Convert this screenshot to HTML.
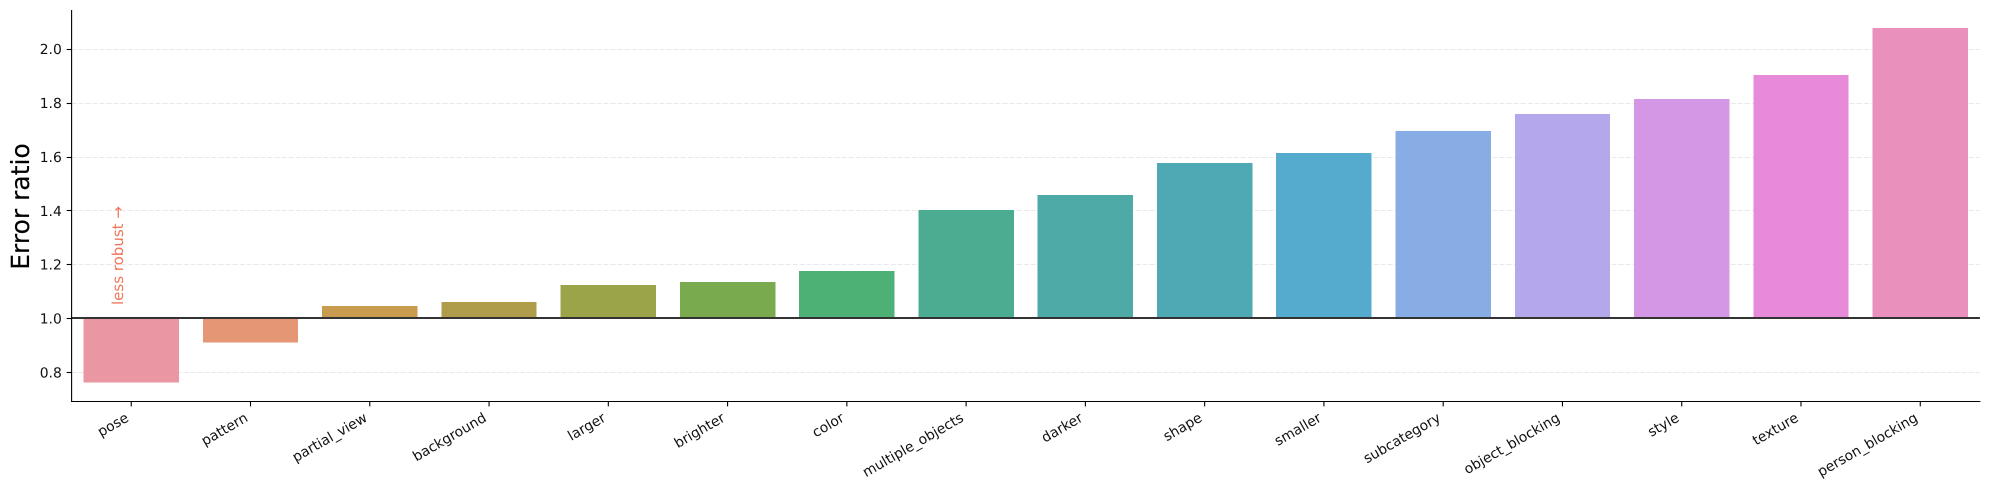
<!DOCTYPE html>
<html lang="en">
<head>
<meta charset="utf-8">
<title>Error ratio by factor</title>
<style>
html,body{margin:0;padding:0;background:#fff;width:1990px;height:490px;overflow:hidden}
svg{display:block}
text{font-family:"DejaVu Sans","Liberation Sans",sans-serif;fill:#111;text-rendering:geometricPrecision}
</style>
</head>
<body>
<svg id="chart" xmlns="http://www.w3.org/2000/svg" width="1990" height="490" viewBox="0 0 1990 490">
  <rect x="0" y="0" width="1990" height="490" fill="#ffffff"/>
  <g id="grid"></g>
  <g id="bars"></g>
  <g id="yticks"></g>
  <g id="xticks"></g>
  <g id="baseline"></g>
  <g id="spines"></g>
  <text transform="translate(29,206.5) rotate(-90)" text-anchor="middle" font-size="25" style="fill:#000;stroke:#000;stroke-width:0.15">Error ratio</text>
  <text transform="translate(123,305) rotate(-90)" font-size="15" style="fill:#f0775a">less robust →</text>
</svg>
<script>
const categories = ["pose","pattern","partial_view","background","larger","brighter","color","multiple_objects","darker","shape","smaller","subcategory","object_blocking","style","texture","person_blocking"];
const errorRatios = [0.7605,0.909,1.045,1.060,1.123,1.135,1.175,1.402,1.4575,1.576,1.613,1.695,1.758,1.814,1.903,2.078];
const yTickValues = [0.8,1.0,1.2,1.4,1.6,1.8,2.0];
const yTickLabels = ["0.8","1.0","1.2","1.4","1.6","1.8","2.0"];
const baselineValue = 1.0;
const barPalette = ["#ea96a3","#e49675","#c89b4e","#b09d4b","#9ba449","#79ab4e","#4db074","#4bac91","#4daaa6","#4fa9b5","#54abce","#88ade4","#b5a8ea","#d497e6","#e68ad9","#ea90bc"];

const NS = "http://www.w3.org/2000/svg";
const plot = {left:71.6, right:1979.9, top:10, bottom:401.5};
const yDomain = [0.6907, 2.1444];
const barFraction = 0.8;

function xScale(i){
  const step = (plot.right - plot.left) / categories.length;
  return plot.left + step * (i + 0.5);
}
function bandWidth(){
  return (plot.right - plot.left) / categories.length * barFraction;
}
function yScale(v){
  return plot.bottom - (v - yDomain[0]) / (yDomain[1] - yDomain[0]) * (plot.bottom - plot.top);
}
function make(tag, attrs, parent){
  const el = document.createElementNS(NS, tag);
  for (const k in attrs) el.setAttribute(k, attrs[k]);
  parent.appendChild(el);
  return el;
}

const gridG = document.getElementById("grid");
const barsG = document.getElementById("bars");
const yG = document.getElementById("yticks");
const xG = document.getElementById("xticks");
const baseG = document.getElementById("baseline");
const spineG = document.getElementById("spines");

yTickValues.forEach(function(v, i){
  const y = Math.round(yScale(v)) + 0.5;
  const g = make("line", {x1:plot.left, x2:plot.right, y1:y, y2:y, stroke:"#e9e9e9", "stroke-width":1.1, "stroke-dasharray":"5 2"}, gridG);
  
  
  const t = make("line", {x1:plot.left - 4.9, x2:plot.left, y1:y, y2:y, stroke:"#000", "stroke-width":1.1}, yG);
  
  
  const l = make("text", {x:plot.left - 9.8, y:yScale(v) + 5.3, "text-anchor":"end", "font-size":13.9}, yG);
  
  
  l.textContent = yTickLabels[i];
});

categories.forEach(function(name, i){
  const cx = xScale(i);
  const w = bandWidth();
  const y0 = yScale(baselineValue);
  const y1 = yScale(errorRatios[i]);
  const r = make("rect", {x:cx - w / 2, width:w, y:Math.min(y0, y1), height:Math.abs(y0 - y1), fill:barPalette[i], "shape-rendering":"crispEdges"}, barsG);
  
  
  const t = make("line", {x1:cx, x2:cx, y1:plot.bottom, y2:plot.bottom + 4.9, stroke:"#000", "stroke-width":1.1}, xG);
  
  
  const l = make("text", {transform:"translate(" + (cx - 1.6) + ",420.5) rotate(-30)", "text-anchor":"end", "font-size":13.9}, xG);
  
  
  l.textContent = name;
});

const bl = make("line", {x1:plot.left, x2:plot.right, y1:yScale(baselineValue) - 0.2, y2:yScale(baselineValue) - 0.2, stroke:"#333333", "stroke-width":2}, baseG);



const sl = make("line", {x1:plot.left, x2:plot.left, y1:plot.top, y2:plot.bottom + 0.5, stroke:"#000", "stroke-width":1.1}, spineG);


const sb = make("line", {x1:plot.left - 0.5, x2:plot.right + 0.5, y1:plot.bottom, y2:plot.bottom, stroke:"#000", "stroke-width":1.1}, spineG);


</script>
</body>
</html>
